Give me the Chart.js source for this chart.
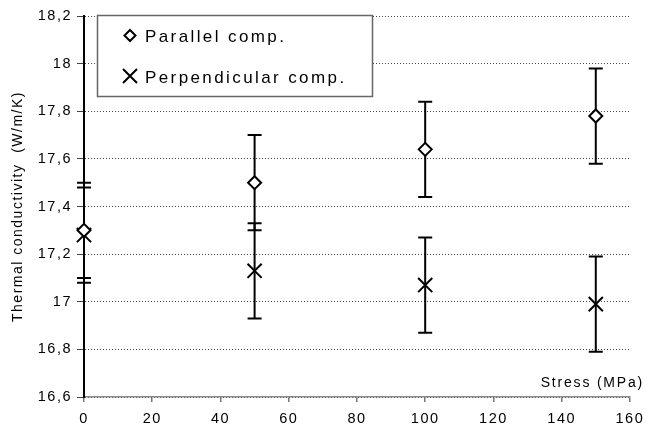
<!DOCTYPE html>
<html>
<head>
<meta charset="utf-8">
<script src="https://cdn.jsdelivr.net/npm/chart.js@4"></script>
<style>
  html, body { margin: 0; padding: 0; background: #fff; }
  #wrap { width: 650px; height: 428px; }
</style>
</head>
<body>
<div id="wrap"><canvas id="chart" width="650" height="428"></canvas></div>
<script>
// Data
const stress = [0, 50, 100, 150];
const parallel = [17.3, 17.5, 17.64, 17.78];
const perpendicular = [17.28, 17.13, 17.07, 16.99];
const parallelErr = [0.2, 0.2, 0.2, 0.2];
const perpendicularErr = [0.2, 0.2, 0.2, 0.2];
const seriesLabels = ['Parallel comp.', 'Perpendicular comp.'];
const xTitle = 'Stress (MPa)';
const yTitle = 'Thermal conductivity  (W/m/K)';

const FONT = '"Liberation Sans", Arial, sans-serif';

// wider letter spacing for all chart text, like the original
const spacing = {
  id: 'spacing',
  beforeDraw(chart) { chart.ctx.letterSpacing = '1.5px'; }
};

// vertical error bars with caps, drawn under the markers
const errorBars = {
  id: 'errorBars',
  beforeDatasetsDraw(chart) {
    const ctx = chart.ctx;
    const y = chart.scales.y;
    ctx.save();
    ctx.strokeStyle = '#000';
    ctx.lineWidth = 2;
    chart.data.datasets.forEach((ds, i) => {
      const meta = chart.getDatasetMeta(i);
      meta.data.forEach((pt, j) => {
        const v = ds.data[j].y;
        const e = ds.errors[j];
        const top = y.getPixelForValue(v + e);
        const bot = y.getPixelForValue(v - e);
        ctx.beginPath();
        ctx.moveTo(pt.x, top);
        ctx.lineTo(pt.x, bot);
        ctx.moveTo(pt.x - 7, top);
        ctx.lineTo(pt.x + 7, top);
        ctx.moveTo(pt.x - 7, bot);
        ctx.lineTo(pt.x + 7, bot);
        ctx.stroke();
      });
    });
    ctx.restore();
  }
};

// boxed legend in the upper left and the x title inside the plot
const overlay = {
  id: 'overlay',
  afterDraw(chart) {
    const ctx = chart.ctx;
    ctx.save();
    ctx.fillStyle = '#fff';
    ctx.fillRect(97, 15, 276, 82);
    ctx.strokeStyle = '#666';
    ctx.lineWidth = 1.5;
    ctx.strokeRect(97.5, 15.5, 275, 81);

    // diamond
    ctx.strokeStyle = '#000';
    ctx.lineWidth = 2;
    ctx.beginPath();
    ctx.moveTo(130, 30);
    ctx.lineTo(135.5, 35.5);
    ctx.lineTo(130, 41);
    ctx.lineTo(124.5, 35.5);
    ctx.closePath();
    ctx.stroke();
    // cross
    ctx.beginPath();
    ctx.moveTo(123, 69);
    ctx.lineTo(137, 83);
    ctx.moveTo(137, 69);
    ctx.lineTo(123, 83);
    ctx.stroke();

    ctx.fillStyle = '#000';
    ctx.font = '17px ' + FONT;
    ctx.letterSpacing = '2.4px';
    ctx.textBaseline = 'alphabetic';
    ctx.fillText(seriesLabels[0], 145, 42);
    ctx.fillText(seriesLabels[1], 145, 83);

    ctx.font = '14px ' + FONT;
    ctx.letterSpacing = '1.8px';
    ctx.textAlign = 'right';
    ctx.fillText(xTitle, 644, 387);
    ctx.restore();
  }
};

new Chart(document.getElementById('chart'), {
  type: 'scatter',
  data: {
    datasets: [
      {
        label: seriesLabels[0],
        data: stress.map((x, i) => ({ x: x, y: parallel[i] })),
        errors: parallelErr,
        pointStyle: 'rectRot',
        radius: 6.5,
        borderColor: '#000',
        backgroundColor: '#fff',
        borderWidth: 2,
        clip: false
      },
      {
        label: seriesLabels[1],
        data: stress.map((x, i) => ({ x: x, y: perpendicular[i] })),
        errors: perpendicularErr,
        pointStyle: 'crossRot',
        radius: 10,
        borderColor: '#000',
        backgroundColor: '#000',
        borderWidth: 2,
        clip: false
      }
    ]
  },
  options: {
    responsive: false,
    animation: false,
    layout: { padding: { top: 16, right: 18, left: 0, bottom: 0 } },
    plugins: {
      legend: { display: false },
      tooltip: { enabled: false }
    },
    scales: {
      x: {
        type: 'linear',
        min: 0,
        max: 160,
        ticks: {
          stepSize: 20,
          color: '#000',
          padding: 8,
          font: { family: FONT, size: 14.5 }
        },
        grid: {
          drawOnChartArea: false,
          tickLength: 5,
          color: '#777',
          lineWidth: 1.5
        },
        border: { color: '#888', width: 1.5 },
        afterFit(scale) { scale.height = 31; }
      },
      y: {
        min: 16.6,
        max: 18.2,
        ticks: {
          stepSize: 0.2,
          color: '#000',
          padding: 5,
          font: { family: FONT, size: 14.5 },
          callback: v => String(Number(v.toFixed(1))).replace('.', ',')
        },
        grid: {
          color: '#444',
          lineWidth: 1,
          tickLength: 7
        },
        border: { color: '#000', width: 2, dash: [1, 2], display: true },
        title: {
          display: true,
          text: yTitle,
          color: '#000',
          padding: { top: 10, bottom: 0 },
          font: { family: FONT, size: 14 }
        },
        afterFit(scale) { scale.width = 84; }
      }
    }
  },
  plugins: [spacing, errorBars, overlay]
});
</script>
</body>
</html>
